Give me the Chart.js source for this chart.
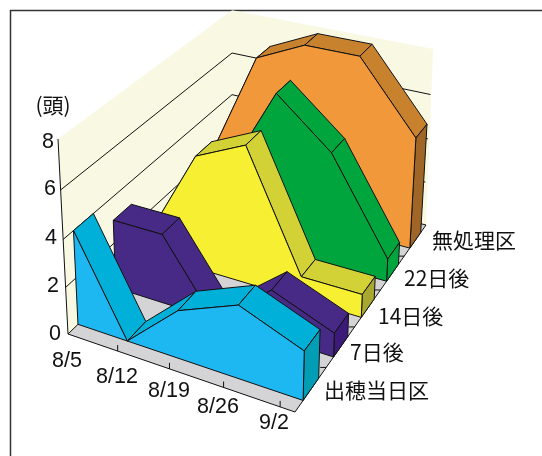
<!DOCTYPE html>
<html>
<head>
<meta charset="utf-8">
<style>
  html, body { margin: 0; padding: 0; background: #fff; }
  canvas { display: block; }
</style>
<script src="https://cdn.jsdelivr.net/npm/chart.js@4/dist/chart.umd.min.js"></script>
</head>
<body>
<canvas id="chart" width="542" height="456"></canvas>
<script>
// head counts per survey date, one list per treatment
var dates = ['8/5', '8/12', '8/19', '8/26', '9/2'];
var treatments = ['出穂当日区', '7日後', '14日後', '22日後', '無処理区'];
var heading = [4, 0, 2, 3, 2];
var after7 = [3, 3, 0, 2, 1];
var after14 = [1, 5, 6, 1, 1];
var after22 = [0, 3, 7, 5, 1];
var untreated = [2, 7, 8, 8, 5];
var valueTicks = [0, 2, 4, 6, 8];
var unitLabel = '(頭)';

// front to back, same order as treatments
var seriesValues = [heading, after7, after14, after22, untreated];
var seriesColors = [
    { front: '#1db8f2', top: '#00b0d8', side: '#009db4' },
    { front: '#472a86', top: '#472a86', side: '#3b1a7a' },
    { front: '#f7f032', top: '#d2d236', side: '#a8a730' },
    { front: '#00a63d', top: '#00a63d', side: '#00a63d' },
    { front: '#f0983a', top: '#c8822e', side: '#9f6627' }
];

// box corners on screen, the rest of the perspective follows from these
var P00 = [68, 334], P10 = [295, 412], P11 = [426, 225], P01 = [232, 175];
var T00 = [58, 139];
var wv = -0.058;
var valueMax = 8;
var datePos = [0, 0.235, 0.47, 0.73, 1];
var floorTicks = [0.235, 0.47, 0.705, 0.94];
var depthTicks = [0.2, 0.4, 0.6, 0.8];
var wallEnd = 0.985;

var dx1 = P10[0] - P11[0], dx2 = P01[0] - P11[0], sx = P00[0] - P10[0] + P11[0] - P01[0];
var dy1 = P10[1] - P11[1], dy2 = P01[1] - P11[1], sy = P00[1] - P10[1] + P11[1] - P01[1];
var det = dx1 * dy2 - dx2 * dy1;
var wt = (sx * dy2 - dx2 * sy) / det;
var wd = (dx1 * sy - sx * dy1) / det;

// t: along dates 0..1, d: into the depth 0..1, v: head count
function project(t, d, v) {
    var u = v / valueMax;
    var w = 1 + wt * t + wd * d + wv * u;
    var out = [0, 1].map(function(i) {
        var a = P10[i] * (1 + wt) - P00[i];
        var b = P01[i] * (1 + wd) - P00[i];
        var c = T00[i] * (1 + wv) - P00[i];
        return (P00[i] + a * t + b * d + c * u) / w;
    });
    return { x: out[0], y: out[1] };
}

var faces = [];

function addFace(points, fillColor, edgeColor, edgeWidth) {
    var closed = points.concat([points[0]]);
    faces.push({
        data: closed,
        showLine: true,
        fill: 'shape',
        backgroundColor: fillColor,
        borderColor: edgeColor || fillColor,
        borderWidth: edgeWidth === undefined ? 1 : edgeWidth,
        borderJoinStyle: 'round',
        pointRadius: 0,
        tension: 0
    });
}

function addLine(a, b, width) {
    faces.push({
        data: [a, b],
        showLine: true,
        fill: false,
        borderColor: '#111',
        borderWidth: width || 1,
        pointRadius: 0,
        tension: 0
    });
}

// walls and floor
var wallColor = '#f8f8e3';
addFace([project(0, 0, 0), project(0, 0, 8), project(0, 1, 8), project(0, 1, 0)], wallColor, wallColor, 0);
addFace([project(0, 1, 0), project(0, 1, 8), project(wallEnd, 1, 8), project(1, 1, 0)], wallColor, wallColor, 0);
addFace([project(0, 0, 0), project(1, 0, 0), project(1, 1, 0), project(0, 1, 0)], '#d4d4d6', '#111', 1);

[2, 4, 6].forEach(function(v) {
    addLine(project(0, 0, v), project(0, 1, v));
    addLine(project(0, 1, v), project(wallEnd, 1, v));
});
addLine(project(0, 0, 0), project(0, 0, 8));

floorTicks.forEach(function(t) {
    var p = project(t, 0, 0);
    addLine(p, { x: p.x, y: p.y - 6 });
});
depthTicks.forEach(function(d) {
    var p = project(1, d, 0);
    addLine(p, { x: p.x - 6, y: p.y });
});

// slabs, back one first so the nearer ones paint over it
for (var s = seriesValues.length - 1; s >= 0; s--) {
    var vals = seriesValues[s];
    var colors = seriesColors[s];
    var dFront = (s + 0.25) / seriesValues.length;
    var dBack = (s + 0.75) / seriesValues.length;
    var last = vals.length - 1;

    for (var i = 0; i < last; i++) {
        addFace([
            project(datePos[i], dFront, vals[i]),
            project(datePos[i + 1], dFront, vals[i + 1]),
            project(datePos[i + 1], dBack, vals[i + 1]),
            project(datePos[i], dBack, vals[i])
        ], colors.top, '#111');
    }
    addFace([
        project(1, dFront, 0),
        project(1, dFront, vals[last]),
        project(1, dBack, vals[last]),
        project(1, dBack, 0)
    ], colors.side, '#111');

    var outline = vals.map(function(v, k) {
        return project(datePos[k], dFront, v);
    });
    outline.push(project(1, dFront, 0));
    outline.push(project(0, dFront, 0));
    addFace(outline, colors.front, '#111');
}

// datasets paint last-to-first
faces.reverse();

// axis text
var latin = '21.5px "Liberation Sans", Arial, sans-serif';
var cjk = '21px "Noto Sans CJK JP", sans-serif';
var unitFont = '21px "Noto Sans CJK JP", sans-serif';
var valueLabelPos = [[55, 334], [53, 286], [51, 238], [50, 189], [48, 142]];
var dateLabelPos = [[67, 361], [117, 377], [169, 391], [218, 407], [274, 423]];
var treatmentLabelPos = [[324, 390], [350, 352], [378, 316], [404, 278], [432, 240]];

var chartText = {
    id: 'chartText',
    beforeDraw: function(chart) {
        var ctx = chart.ctx;
        ctx.save();
        ctx.fillStyle = '#fff';
        ctx.fillRect(0, 0, 542, 456);
        ctx.strokeStyle = '#333';
        ctx.lineWidth = 1.5;
        ctx.beginPath();
        ctx.moveTo(10.5, 456);
        ctx.lineTo(10.5, 10.5);
        ctx.lineTo(542, 10.5);
        ctx.stroke();
        ctx.restore();
    },
    afterDraw: function(chart) {
        var ctx = chart.ctx;
        var sx = chart.scales.x, sy = chart.scales.y;
        function put(text, pos) {
            ctx.fillText(text, sx.getPixelForValue(pos[0]), sy.getPixelForValue(pos[1]));
        }
        ctx.save();
        ctx.fillStyle = '#111';
        ctx.textBaseline = 'middle';
        ctx.font = latin;
        ctx.textAlign = 'center';
        valueTicks.forEach(function(v, i) { put(String(v), valueLabelPos[i]); });
        dates.forEach(function(label, i) { put(label, dateLabelPos[i]); });
        ctx.font = unitFont;
        put(unitLabel, [53, 105]);
        ctx.font = cjk;
        ctx.textAlign = 'left';
        treatments.forEach(function(label, i) { put(label, treatmentLabelPos[i]); });
        ctx.restore();
    }
};

new Chart(document.getElementById('chart'), {
    type: 'scatter',
    data: { datasets: faces },
    plugins: [chartText],
    options: {
        responsive: false,
        animation: false,
        clip: false,
        layout: { padding: 0 },
        plugins: { legend: { display: false }, tooltip: { enabled: false } },
        scales: {
            x: { type: 'linear', min: 0, max: 542, display: false },
            y: { type: 'linear', min: 0, max: 456, reverse: true, display: false }
        }
    }
});
</script>
</body>
</html>
